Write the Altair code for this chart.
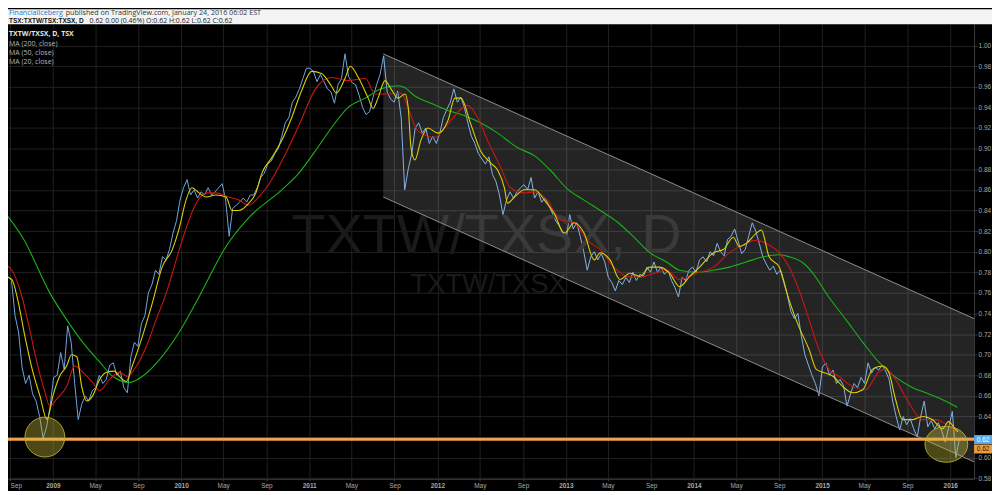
import altair as alt
import pandas as pd

# ---------------- data ----------------
START = "2008-08-26"          # first trading sample shown
PRICE_STEP_DAYS = 10          # spacing of the price samples

# TXTW/TXSX ratio, one reading every 10 days
price = [
    0.776, 0.772, 0.738, 0.722, 0.688, 0.672, 0.680, 0.662, 0.655, 0.640,
    0.619, 0.630, 0.650, 0.678, 0.680, 0.702, 0.686, 0.728, 0.712, 0.672,
    0.637, 0.652, 0.660, 0.655, 0.665, 0.668, 0.680, 0.672, 0.676, 0.690,
    0.692, 0.680, 0.684, 0.668, 0.663, 0.698, 0.712, 0.708, 0.730, 0.738,
    0.760, 0.768, 0.782, 0.778, 0.795, 0.792, 0.802, 0.818, 0.830, 0.850,
    0.862, 0.870, 0.855, 0.860, 0.852, 0.858, 0.855, 0.862, 0.855, 0.858,
    0.862, 0.866, 0.850, 0.815, 0.842, 0.845, 0.848, 0.852, 0.848, 0.855,
    0.855, 0.862, 0.872, 0.876, 0.885, 0.888, 0.895, 0.900, 0.912, 0.925,
    0.930, 0.945, 0.950, 0.958, 0.968, 0.978, 0.978, 0.975, 0.965, 0.972,
    0.965, 0.958, 0.955, 0.944, 0.962, 0.968, 0.992, 0.970, 0.964, 0.962,
    0.952, 0.940, 0.933, 0.936, 0.950, 0.962, 0.972, 0.990, 0.955, 0.948,
    0.945, 0.956, 0.930, 0.860, 0.880, 0.895, 0.920, 0.925, 0.915, 0.920,
    0.905, 0.912, 0.905, 0.915, 0.930, 0.938, 0.945, 0.958, 0.945, 0.950,
    0.940, 0.925, 0.912, 0.905, 0.895, 0.890, 0.885, 0.892, 0.875, 0.868,
    0.855, 0.836, 0.850, 0.858, 0.852, 0.858, 0.862, 0.865, 0.860, 0.872,
    0.852, 0.858, 0.848, 0.852, 0.845, 0.838, 0.830, 0.825, 0.818, 0.812,
    0.836, 0.822, 0.828, 0.815, 0.800, 0.782, 0.795, 0.800, 0.792, 0.798,
    0.790, 0.775, 0.770, 0.762, 0.772, 0.768, 0.775, 0.770, 0.780, 0.772,
    0.778, 0.776, 0.785, 0.780, 0.790, 0.780, 0.785, 0.778, 0.782, 0.772,
    0.765, 0.756, 0.775, 0.772, 0.782, 0.785, 0.780, 0.792, 0.795, 0.790,
    0.800, 0.796, 0.808, 0.800, 0.796, 0.812, 0.815, 0.822, 0.810, 0.798,
    0.802, 0.815, 0.828, 0.820, 0.808, 0.795, 0.788, 0.782, 0.786, 0.778,
    0.782, 0.770, 0.758, 0.742, 0.735, 0.740, 0.718, 0.700, 0.690, 0.680,
    0.672, 0.660, 0.688, 0.692, 0.680, 0.685, 0.672, 0.676, 0.670, 0.650,
    0.662, 0.672, 0.668, 0.678, 0.672, 0.692, 0.682, 0.688, 0.685, 0.690,
    0.684, 0.676, 0.655, 0.640, 0.627, 0.640, 0.632, 0.638, 0.628, 0.620,
    0.640, 0.655, 0.630, 0.636, 0.628, 0.634, 0.626, 0.615, 0.630, 0.645,
    0.600, 0.618,
]

# MA (20, close) - days after START, value
ma20_day = [
    0, 11, 28, 48, 71, 91, 111, 128, 147, 167,
    181, 196, 210, 224, 241, 261, 281, 303, 317, 337,
    354, 383, 411, 439, 468, 488, 507, 524, 544, 564,
    592, 621, 638, 658, 686, 706, 723, 751, 780, 808,
    836, 865, 893, 921, 935, 961, 975, 998, 1026, 1040,
    1054, 1074, 1091, 1111, 1131, 1140, 1148, 1159, 1176, 1196,
    1225, 1253, 1273, 1290, 1318, 1346, 1375, 1395, 1414, 1423,
    1443, 1471, 1500, 1528, 1556, 1585, 1613, 1641, 1670, 1687,
    1715, 1743, 1772, 1800, 1828, 1857, 1885, 1913, 1942, 1970,
    2010, 2038, 2066, 2083, 2103, 2132, 2146, 2168, 2197, 2225,
    2253, 2282, 2302, 2321, 2350, 2378, 2406, 2435, 2463, 2492,
    2509, 2528, 2548, 2577, 2605, 2633, 2662, 2679, 2698, 2707,
]
ma20 = [
    0.775, 0.773, 0.753, 0.718, 0.683, 0.660, 0.637, 0.660, 0.679, 0.689,
    0.700, 0.698, 0.669, 0.655, 0.660, 0.676, 0.683, 0.684, 0.679, 0.674,
    0.689, 0.718, 0.750, 0.785, 0.802, 0.823, 0.850, 0.862, 0.857, 0.853,
    0.855, 0.853, 0.840, 0.840, 0.847, 0.857, 0.876, 0.891, 0.908, 0.930,
    0.956, 0.975, 0.973, 0.961, 0.954, 0.969, 0.980, 0.969, 0.949, 0.939,
    0.949, 0.966, 0.958, 0.949, 0.953, 0.940, 0.901, 0.889, 0.908, 0.920,
    0.915, 0.927, 0.949, 0.949, 0.924, 0.898, 0.886, 0.879, 0.862, 0.847,
    0.853, 0.860, 0.860, 0.850, 0.837, 0.818, 0.828, 0.818, 0.792, 0.799,
    0.792, 0.773, 0.779, 0.776, 0.785, 0.785, 0.779, 0.766, 0.776, 0.785,
    0.799, 0.802, 0.814, 0.805, 0.808, 0.818, 0.821, 0.795, 0.785, 0.753,
    0.727, 0.705, 0.686, 0.683, 0.679, 0.669, 0.663, 0.666, 0.686, 0.689,
    0.683, 0.657, 0.637, 0.637, 0.640, 0.637, 0.628, 0.635, 0.628, 0.625,
]

# MA (50, close)
ma50_day = [
    0, 11, 40, 62, 82, 105, 119, 139, 167, 190,
    213, 241, 261, 289, 317, 340, 366, 394, 422, 451,
    468, 496, 536, 564, 592, 629, 658, 686, 714, 734,
    780, 828, 876, 921, 969, 1018, 1046, 1074, 1120, 1140,
    1168, 1216, 1244, 1261, 1309, 1338, 1366, 1403, 1431, 1471,
    1500, 1536, 1573, 1613, 1650, 1687, 1726, 1763, 1800, 1840,
    1876, 1913, 1961, 2010, 2055, 2103, 2132, 2160, 2197, 2225,
    2253, 2282, 2310, 2338, 2367, 2406, 2443, 2480, 2500, 2528,
    2565, 2605, 2642, 2670, 2704,
]
ma50 = [
    0.786, 0.782, 0.756, 0.724, 0.693, 0.664, 0.650, 0.657, 0.669, 0.689,
    0.683, 0.673, 0.665, 0.676, 0.683, 0.679, 0.689, 0.708, 0.734, 0.760,
    0.779, 0.811, 0.847, 0.857, 0.857, 0.853, 0.850, 0.845, 0.853, 0.861,
    0.888, 0.922, 0.958, 0.969, 0.966, 0.968, 0.953, 0.953, 0.954, 0.939,
    0.917, 0.911, 0.920, 0.927, 0.942, 0.930, 0.908, 0.882, 0.862, 0.857,
    0.858, 0.850, 0.831, 0.828, 0.811, 0.802, 0.785, 0.776, 0.775, 0.779,
    0.782, 0.773, 0.779, 0.785, 0.799, 0.808, 0.811, 0.808, 0.799, 0.785,
    0.763, 0.734, 0.705, 0.686, 0.679, 0.669, 0.666, 0.683, 0.686, 0.676,
    0.654, 0.637, 0.637, 0.633, 0.625,
]

# MA (200, close)
ma200_day = [
    0, 43, 119, 167, 213, 261, 298, 346, 383, 431,
    488, 544, 621, 686, 780, 828, 876, 921, 969, 1018,
    1063, 1111, 1131, 1159, 1205, 1253, 1301, 1346, 1395, 1451,
    1500, 1545, 1593, 1641, 1687, 1735, 1783, 1828, 1876, 1913,
    1961, 2010, 2055, 2103, 2151, 2197, 2225, 2265, 2293, 2338,
    2387, 2435, 2480, 2529, 2577, 2622, 2670, 2704,
]
ma200 = [
    0.834, 0.813, 0.760, 0.734, 0.712, 0.693, 0.679, 0.673, 0.679, 0.695,
    0.722, 0.756, 0.805, 0.833, 0.860, 0.876, 0.898, 0.920, 0.940, 0.949,
    0.958, 0.961, 0.959, 0.951, 0.944, 0.937, 0.932, 0.925, 0.915, 0.901,
    0.893, 0.879, 0.861, 0.850, 0.840, 0.829, 0.814, 0.799, 0.790, 0.782,
    0.780, 0.782, 0.785, 0.790, 0.795, 0.797, 0.795, 0.789, 0.779, 0.756,
    0.734, 0.712, 0.693, 0.678, 0.668, 0.662, 0.655, 0.649,
]

# descending channel drawing
channel_day = [1069, 2752]
channel_upper = [0.992, 0.735]
channel_lower = [0.853, 0.596]

# horizontal support line and highlighted zones
support_level = [0.618]
circle_left_day, circle_left_value = [105], [0.620]
circle_right_day, circle_right_value = [2673], [0.613]

y_tick_values = [0.58, 0.60, 0.62, 0.64, 0.66, 0.68, 0.70, 0.72, 0.74, 0.76,
                 0.78, 0.80, 0.82, 0.84, 0.86, 0.88, 0.90, 0.92, 0.94, 0.96,
                 0.98, 1.00]

# ---------------- helpers ----------------
base = pd.Timestamp(START)


def to_dates(days):
    return [(base + pd.Timedelta(days=int(d))).strftime("%Y-%m-%d") for d in days]


price_df = pd.DataFrame({
    "date": to_dates([i * PRICE_STEP_DAYS for i in range(len(price))]),
    "value": price,
})
ma20_df = pd.DataFrame({"date": to_dates(ma20_day), "value": ma20})
ma50_df = pd.DataFrame({"date": to_dates(ma50_day), "value": ma50})
ma200_df = pd.DataFrame({"date": to_dates(ma200_day), "value": ma200})
channel_df = pd.DataFrame({"date": to_dates(channel_day),
                           "upper": channel_upper, "lower": channel_lower})
support_df = pd.DataFrame({"level": support_level})
cl_df = pd.DataFrame({"date": to_dates(circle_left_day), "value": circle_left_value})
cr_df = pd.DataFrame({"date": to_dates(circle_right_day), "value": circle_right_value})

W, H = 971, 457
AXIS_COL = "#3c3c3c"
GRID_COL = "#202020"
LABEL_COL = "#a8a8a8"

xs = alt.Scale(type="utc", nice=False,
               domain=[alt.DateTime(year=2008, month=8, date=26, utc=True),
                       alt.DateTime(year=2016, month=3, date=9, utc=True)])
ys = alt.Scale(domain=[0.5795, 1.0208], nice=False, zero=False)

x_axis = alt.Axis(
    title=None, orient="bottom",
    tickCount={"interval": "month", "step": 4},
    labelExpr="utcmonth(datum.value)==0 ? utcFormat(datum.value,'%Y') : utcFormat(datum.value,'%b')",
    labelFontWeight={"condition": {"test": "utcmonth(datum.value)==0", "value": "bold"},
                     "value": "normal"},
    labelColor=LABEL_COL, labelFontSize=6.5, labelFont="Liberation Sans",
    grid=True, gridColor=GRID_COL, gridWidth=1,
    domainColor=AXIS_COL, tickColor=AXIS_COL, tickSize=2, labelPadding=2,
    labelOverlap=False, labelFlush=6, labelBound=False,
)
y_axis = alt.Axis(
    title=None, orient="right", values=y_tick_values, format=".2f",
    labelColor=LABEL_COL, labelFontSize=6.5, labelFont="Liberation Sans",
    grid=True, gridColor=GRID_COL, gridWidth=1,
    domainColor=AXIS_COL, tickColor=AXIS_COL, tickSize=3, labelPadding=1,
    labelOverlap=False, labelFlush=False, labelBound=False,
)


def X(field="date"):
    return alt.X(f"{field}:T", scale=xs, axis=x_axis)


def Y(field="value"):
    return alt.Y(f"{field}:Q", scale=ys, axis=y_axis)


def label(text, x, y, **kw):
    return alt.Chart(pd.DataFrame({"t": [text]})).mark_text(**kw).encode(
        text="t:N", x=alt.value(x), y=alt.value(y))


def box(x1, x2, y1, y2, color):
    return alt.Chart(pd.DataFrame({"a": [0]})).mark_rect(color=color).encode(
        x=alt.value(x1), x2=alt.value(x2), y=alt.value(y1), y2=alt.value(y2))


# ---------------- layers ----------------
watermark1 = label("TXTW/TXSX, D", 481, 230, font="Liberation Sans", fontSize=56,
                   color="#1a1a1a", align="center", baseline="alphabetic")
watermark2 = label("TXTW/TXSX", 483, 270, font="Liberation Sans", fontSize=27.5,
                   color="#1a1a1a", align="center", baseline="alphabetic")

channel_fill = alt.Chart(channel_df).mark_area(color="#ffffff", opacity=0.14, clip=True).encode(
    x=X(), y=Y("upper"), y2="lower:Q")
channel_up = alt.Chart(channel_df).mark_line(color="#8e8e8e", strokeWidth=1, clip=True).encode(
    x=X(), y=Y("upper"))
channel_lo = alt.Chart(channel_df).mark_line(color="#8e8e8e", strokeWidth=1, clip=True).encode(
    x=X(), y=Y("lower"))

price_line = alt.Chart(price_df).mark_line(color="#6ea6e0", strokeWidth=1, clip=True).encode(
    x=X(), y=Y())
ma200_line = alt.Chart(ma200_df).mark_line(color="#18b418", strokeWidth=1.1, clip=True,
                                           interpolate="monotone").encode(x=X(), y=Y())
ma50_line = alt.Chart(ma50_df).mark_line(color="#cc1515", strokeWidth=1.1, clip=True,
                                         interpolate="monotone").encode(x=X(), y=Y())
ma20_line = alt.Chart(ma20_df).mark_line(color="#dcd000", strokeWidth=1.1, clip=True,
                                         interpolate="monotone").encode(x=X(), y=Y())

support = alt.Chart(support_df).mark_rule(color="#f2a14e", strokeWidth=3).encode(
    y=Y("level"))

circle_left = alt.Chart(cl_df).mark_point(
    shape="circle", size=1600, filled=True, fill="#c8bd3c", fillOpacity=0.38,
    stroke="#b8ae34", strokeOpacity=0.9, strokeWidth=1).encode(x=X(), y=Y())
circle_right = alt.Chart(cr_df).mark_point(
    shape="M -1 0 A 1 0.84 0 1 0 1 0 A 1 0.84 0 1 0 -1 0 Z", size=1849, filled=True,
    fill="#c8bd3c", fillOpacity=0.38, stroke="#b8ae34", strokeOpacity=0.9,
    strokeWidth=1).encode(x=X(), y=Y())

legend_title = label("TXTW/TXSX, D, TSX", 1, 10, font="Open Sans", fontSize=7,
                     fontWeight="bold", color="#e6e6e6", align="left", baseline="middle")
legend_200 = label("MA (200, close)", 1, 20, font="Open Sans", fontSize=7,
                   color="#b4b4b4", align="left", baseline="middle")
legend_50 = label("MA (50, close)", 1, 29, font="Open Sans", fontSize=7,
                  color="#b4b4b4", align="left", baseline="middle")
legend_20 = label("MA (20, close)", 1, 38, font="Open Sans", fontSize=7,
                  color="#b4b4b4", align="left", baseline="middle")

header_bg = box(-10, 1000, -15, 0, "#f3f3f3")
header_user = label("FinancialIceberg", 1, -11, font="Open Sans", fontSize=7.2,
                    color="#2b7bd0", align="left", baseline="middle")
header_rest = label("published on TradingView.com, January 24, 2016 06:02 EST", 58, -11,
                    font="Open Sans", fontSize=7.2, color="#333333", align="left",
                    baseline="middle")
header_sym = label("TSX:TXTW/TSX:TXSX, D", 1, -3.5, font="Liberation Sans", fontSize=6.5,
                   fontWeight="bold", color="#111111", align="left", baseline="middle")
header_ohlc = label("0.62 0.00 (0.46%) O:0.62 H:0.62 L:0.62 C:0.62", 82, -3.5,
                    font="Open Sans", fontSize=7, color="#222222", align="left",
                    baseline="middle")

price_tag_bg = box(W, W + 18, 413, 422, "#5aaaf0")
price_tag = label("0.62", W + 9, 417.5, font="Liberation Sans", fontSize=6.5,
                  color="#ffffff", align="center", baseline="middle")
level_tag_bg = box(W, W + 18, 422.5, 431.5, "#f09a40")
level_tag = label("0.62", W + 9, 427, font="Liberation Sans", fontSize=6.5,
                  color="#2a1a00", align="center", baseline="middle")

chart = alt.layer(
    price_line, watermark1, watermark2, channel_fill, channel_up, channel_lo,
    ma200_line, ma50_line, ma20_line, support, circle_left, circle_right,
    legend_title, legend_200, legend_50, legend_20,
    header_bg, header_user, header_rest, header_sym, header_ohlc,
    price_tag_bg, price_tag, level_tag_bg, level_tag,
).properties(
    width=W, height=H,
    padding={"left": 0, "top": 15, "right": 18, "bottom": 11},
    autosize=alt.AutoSizeParams(type="none"),
).configure(
    background="#000000",
).configure_view(
    fill="#000000", strokeWidth=0,
)

chart.save("out.html", embed_options={"renderer": "svg", "actions": False})
